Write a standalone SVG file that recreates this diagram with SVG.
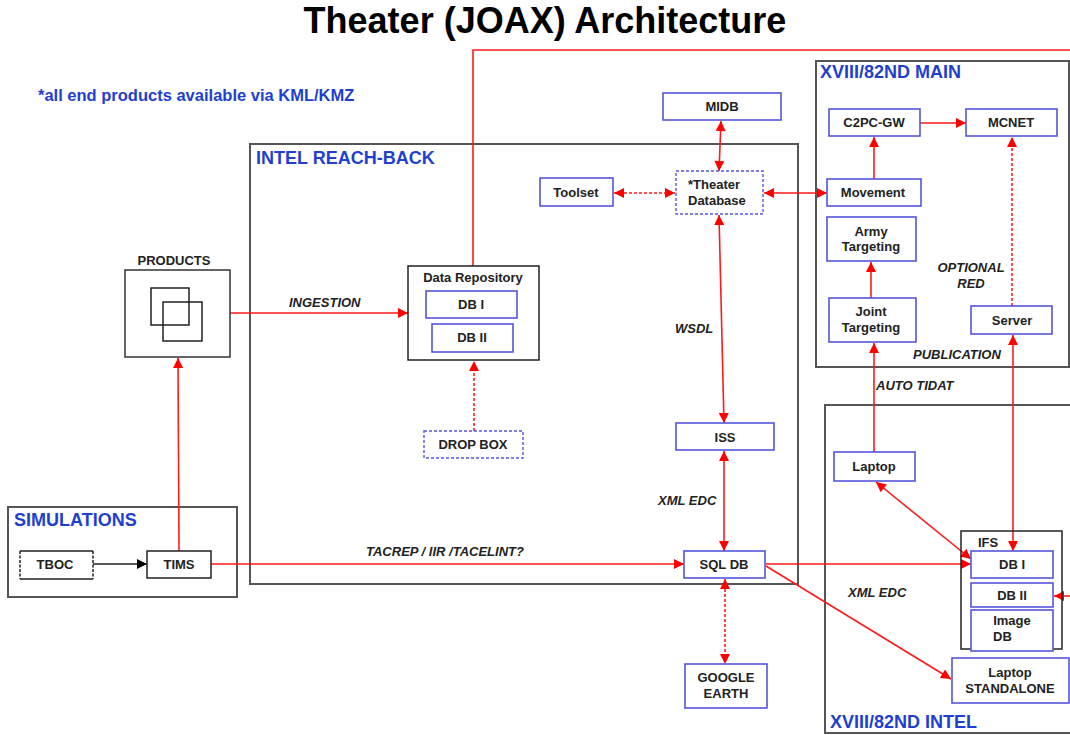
<svg xmlns="http://www.w3.org/2000/svg" width="1070" height="735" viewBox="0 0 1070 735">
  <style>
    text { font-family: "Liberation Sans", Arial, sans-serif; }
    .title { font-size: 36px; font-weight: bold; fill: #000; }
    .note { font-size: 16.5px; font-weight: bold; fill: #1f3fd0; }
    .hdr { font-size: 18px; font-weight: bold; fill: #1f3fd0; }
    .lbl { font-size: 13px; font-weight: bold; fill: #222; }
    .flow { font-size: 13px; font-weight: bold; font-style: italic; fill: #222; }
    .group { fill: none; stroke: #555; stroke-width: 2; }
    .frame { fill: none; stroke: #222; stroke-width: 1.5; }
    .node { fill: #fff; stroke: #5555dd; stroke-width: 1.6; }
    .dnode { fill: #fff; stroke: #5555dd; stroke-width: 1.4; stroke-dasharray: 3 2; }
    .link { fill: none; stroke: #ff1a1a; stroke-width: 1.6; }
    .dash { stroke-dasharray: 3 2; }
  </style>
  <defs>
    <marker id="arr" viewBox="0 0 10 10" refX="10" refY="5" markerWidth="11" markerHeight="10" markerUnits="userSpaceOnUse" orient="auto-start-reverse">
      <path d="M0,0 L10,5 L0,10 z" fill="#ff0000"/>
    </marker>
    <marker id="arrK" viewBox="0 0 10 10" refX="10" refY="5" markerWidth="11" markerHeight="10" markerUnits="userSpaceOnUse" orient="auto">
      <path d="M0,0 L10,5 L0,10 z" fill="#000"/>
    </marker>
  </defs>

  <rect width="1070" height="735" fill="#fff"/>

  <text class="title" x="545" y="33" text-anchor="middle">Theater (JOAX) Architecture</text>
  <text class="note" x="38" y="101">*all end products available via KML/KMZ</text>

  <!-- enclosing areas -->
  <g id="intel-reach-back">
    <rect class="group" x="250" y="144" width="548" height="440"/>
    <text class="hdr" x="256" y="164">INTEL REACH-BACK</text>
  </g>
  <g id="main">
    <rect class="group" x="816" y="61" width="253" height="306"/>
    <text class="hdr" x="820" y="78">XVIII/82ND MAIN</text>
  </g>
  <g id="intel">
    <rect class="group" x="825" y="405" width="260" height="328"/>
    <text class="hdr" x="830" y="728">XVIII/82ND INTEL</text>
  </g>
  <g id="simulations">
    <rect class="group" x="8" y="507" width="229" height="90"/>
    <text class="hdr" x="14" y="526">SIMULATIONS</text>
  </g>

  <!-- connectors -->
  <g id="connectors">
    <path class="link" d="M473,266 V50 H1070" stroke-width="2"/>
    <path class="link" d="M230,313 H408" marker-end="url(#arr)"/>
    <path class="link dash" d="M474,431 V361" marker-end="url(#arr)"/>
    <path class="link" d="M179,551 L178,358" marker-end="url(#arr)"/>
    <path d="M93,564 H147" stroke="#222" stroke-width="1.5" marker-end="url(#arrK)"/>
    <path class="link" d="M211,564 H684" marker-end="url(#arr)"/>
    <path class="link" d="M721,121 L719,171" marker-start="url(#arr)" marker-end="url(#arr)"/>
    <path class="link dash" d="M614,193 H675" marker-start="url(#arr)" marker-end="url(#arr)"/>
    <path class="link" d="M764,193 H827" marker-start="url(#arr)" marker-end="url(#arr)"/>
    <path class="link" d="M719,215 L724,423" marker-start="url(#arr)" marker-end="url(#arr)"/>
    <path class="link" d="M724,451 V551" marker-start="url(#arr)" marker-end="url(#arr)"/>
    <path class="link dash" d="M725,579 V664" marker-start="url(#arr)" marker-end="url(#arr)"/>
    <path class="link" d="M874,179 V137" marker-end="url(#arr)"/>
    <path class="link" d="M920,123 H966" marker-end="url(#arr)"/>
    <path class="link" d="M871,298 V262" marker-end="url(#arr)"/>
    <path class="link dash" d="M1012,306 V137" marker-end="url(#arr)"/>
    <path class="link" d="M874,452 V343" marker-end="url(#arr)"/>
    <path class="link" d="M1013,335 V551" marker-start="url(#arr)" marker-end="url(#arr)"/>
    <path class="link" d="M766,564 H971" marker-end="url(#arr)"/>
    <path class="link" d="M766,566 L951,679" marker-end="url(#arr)"/>
    <path class="link" d="M876,482 L971,559" marker-start="url(#arr)" marker-end="url(#arr)"/>
    <path class="link" d="M1070,596 H1054" marker-end="url(#arr)"/>
  </g>

  <!-- connector labels -->
  <g id="flow-labels">
    <text class="flow" x="289" y="307">INGESTION</text>
    <text class="flow" x="366" y="556">TACREP / IIR /TACELINT?</text>
    <text class="flow" x="675" y="333">WSDL</text>
    <text class="flow" x="658" y="505">XML EDC</text>
    <text class="flow" x="848" y="597">XML EDC</text>
    <text class="flow" x="876" y="390">AUTO TIDAT</text>
    <text class="flow" x="971" y="272" text-anchor="middle">OPTIONAL</text>
    <text class="flow" x="971" y="288" text-anchor="middle">RED</text>
    <text class="flow" x="913" y="359">PUBLICATION</text>
  </g>

  <!-- nodes -->
  <g id="products">
    <text class="lbl" x="174" y="265" text-anchor="middle" font-size="12">PRODUCTS</text>
    <rect x="125" y="270" width="105" height="87" fill="#fff" stroke="#333" stroke-width="1.5"/>
    <rect x="151" y="288" width="38" height="37" fill="none" stroke="#111" stroke-width="1.4"/>
    <rect x="163" y="302" width="39" height="39" fill="none" stroke="#111" stroke-width="1.4"/>
  </g>
  <g id="tboc">
    <rect x="20" y="551" width="73" height="28" fill="#fff"/>
    <path d="M20,551 H93 M20,579 H93" stroke="#222" stroke-width="1.5"/>
    <path d="M20,551 V579 M93,551 V579" stroke="#222" stroke-width="1.5" stroke-dasharray="3 1.5"/>
    <text class="lbl" x="55" y="569" text-anchor="middle">TBOC</text>
  </g>
  <g id="tims">
    <rect x="147" y="551" width="64" height="27" fill="#fff" stroke="#222" stroke-width="1.5"/>
    <text class="lbl" x="179" y="569" text-anchor="middle">TIMS</text>
  </g>
  <g id="data-repository">
    <rect class="frame" x="408" y="266" width="131" height="94"/>
    <text class="lbl" x="473" y="282" text-anchor="middle" font-weight="normal" font-size="13">Data Repository</text>
    <rect class="node" x="426" y="291" width="91" height="27"/>
    <text class="lbl" x="471" y="309" text-anchor="middle">DB I</text>
    <rect class="node" x="432" y="324" width="81" height="28"/>
    <text class="lbl" x="472" y="342" text-anchor="middle">DB II</text>
  </g>
  <g id="drop-box">
    <rect class="dnode" x="424" y="431" width="99" height="27"/>
    <text class="lbl" x="473" y="449" text-anchor="middle">DROP BOX</text>
  </g>
  <g id="midb">
    <rect class="node" x="663" y="93" width="118" height="27"/>
    <text class="lbl" x="722" y="111" text-anchor="middle">MIDB</text>
  </g>
  <g id="toolset">
    <rect class="node" x="540" y="178" width="73" height="28"/>
    <text class="lbl" x="576" y="197" text-anchor="middle">Toolset</text>
  </g>
  <g id="theater-database">
    <rect class="dnode" x="676" y="171" width="87" height="43"/>
    <text class="lbl" x="688" y="189">*Theater</text>
    <text class="lbl" x="688" y="205">Database</text>
  </g>
  <g id="iss">
    <rect class="node" x="676" y="423" width="98" height="27"/>
    <text class="lbl" x="725" y="442" text-anchor="middle">ISS</text>
  </g>
  <g id="sql-db">
    <rect class="node" x="684" y="551" width="81" height="27"/>
    <text class="lbl" x="724" y="569" text-anchor="middle">SQL DB</text>
  </g>
  <g id="google-earth">
    <rect class="node" x="685" y="664" width="82" height="44"/>
    <text class="lbl" x="726" y="682" text-anchor="middle">GOOGLE</text>
    <text class="lbl" x="726" y="698" text-anchor="middle">EARTH</text>
  </g>
  <g id="c2pc-gw">
    <rect class="node" x="829" y="109" width="91" height="27"/>
    <text class="lbl" x="874" y="127" text-anchor="middle">C2PC-GW</text>
  </g>
  <g id="mcnet">
    <rect class="node" x="966" y="109" width="91" height="27"/>
    <text class="lbl" x="1011" y="127" text-anchor="middle">MCNET</text>
  </g>
  <g id="movement">
    <rect class="node" x="827" y="179" width="94" height="27"/>
    <text class="lbl" x="873" y="197" text-anchor="middle">Movement</text>
  </g>
  <g id="army-targeting">
    <rect class="node" x="827" y="217" width="89" height="44"/>
    <text class="lbl" x="871" y="236" text-anchor="middle">Army</text>
    <text class="lbl" x="871" y="251" text-anchor="middle">Targeting</text>
  </g>
  <g id="joint-targeting">
    <rect class="node" x="829" y="298" width="87" height="44"/>
    <text class="lbl" x="871" y="316" text-anchor="middle">Joint</text>
    <text class="lbl" x="871" y="332" text-anchor="middle">Targeting</text>
  </g>
  <g id="server">
    <rect class="node" x="971" y="306" width="81" height="28"/>
    <text class="lbl" x="1012" y="325" text-anchor="middle">Server</text>
  </g>
  <g id="laptop">
    <rect class="node" x="834" y="452" width="81" height="29"/>
    <text class="lbl" x="874" y="471" text-anchor="middle">Laptop</text>
  </g>
  <g id="ifs">
    <rect class="frame" x="961" y="531" width="101" height="118"/>
    <text class="lbl" x="978" y="547" font-weight="normal">IFS</text>
    <rect class="node" x="971" y="551" width="82" height="27"/>
    <text class="lbl" x="1012" y="569" text-anchor="middle">DB I</text>
    <rect class="node" x="971" y="583" width="82" height="24"/>
    <text class="lbl" x="1012" y="600" text-anchor="middle">DB II</text>
    <rect class="node" x="971" y="610" width="82" height="41"/>
    <text class="lbl" x="1012" y="625" text-anchor="middle">Image</text>
    <text class="lbl" x="993" y="641">DB</text>
  </g>
  <g id="laptop-standalone">
    <rect class="node" x="952" y="658" width="117" height="45"/>
    <text class="lbl" x="1010" y="677" text-anchor="middle">Laptop</text>
    <text class="lbl" x="1010" y="693" text-anchor="middle">STANDALONE</text>
  </g>
</svg>
